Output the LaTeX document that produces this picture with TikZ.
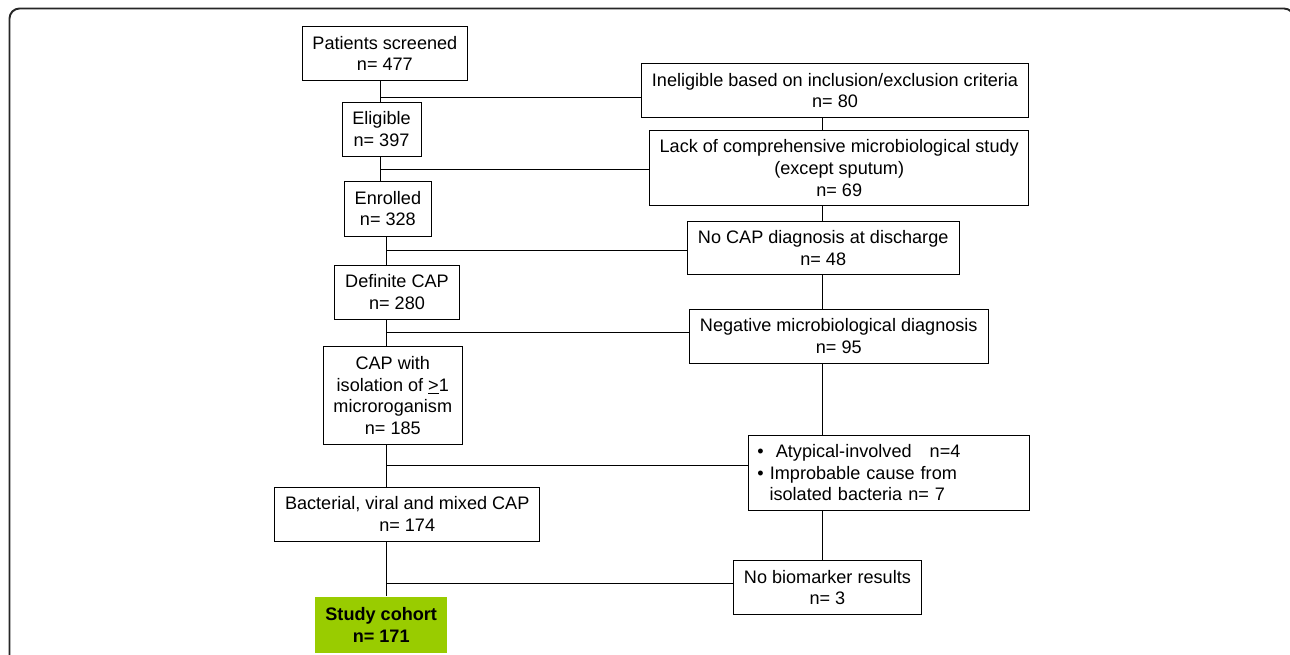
\documentclass[tikz,border=0pt]{standalone}
\usepackage{fontspec}
\setmainfont{Liberation Sans}
\usepackage{xcolor}
\usepackage{tikz}
\usetikzlibrary{positioning}

\definecolor{cohortgreen}{RGB}{153,204,0}

\begin{document}
\begin{tikzpicture}[
    x=0.02cm, y=-0.02cm,
    box/.style={draw, line width=0.5pt, align=center, inner sep=0pt,
        font=\fontsize{10.3pt}{12.4pt}\selectfont},
    final/.style={box, draw=none, fill=cohortgreen,
        font=\fontsize{10.3pt}{12.4pt}\selectfont\bfseries},
    link/.style={line width=0.5pt}
]
\clip (0,0) rectangle (1290,654);
\useasboundingbox (0,0) rectangle (1290,654);
% outer frame
\draw[line width=1.1pt, black!85, rounded corners=0.2cm] (9.5,8.5) rectangle (1294,720);

% main column
\node[box, minimum width=3.31cm, minimum height=1.09cm] (scr) at (384.9,53.4) {Patients screened\\n= 477};
\node[box, minimum width=1.58cm, minimum height=1.09cm] (elig) at (381.5,129.4) {Eligible\\n= 397};
\node[box, minimum width=1.75cm, minimum height=1.10cm] (enr) at (387.9,208.5) {Enrolled\\n= 328};
\node[box, minimum width=2.49cm, minimum height=1.09cm] (def) at (397,292.2) {Definite CAP\\n= 280};
\node[box, minimum width=2.78cm, minimum height=1.95cm] (capw) at (392.8,395.5) {CAP with\\isolation of \underline{>}1\\microroganism\\n= 185};
\node[box, minimum width=5.31cm, minimum height=1.07cm] (bact) at (407.2,514.2) {Bacterial, viral and mixed CAP\\n= 174};
\node[final, minimum width=2.65cm, minimum height=1.13cm] (study) at (381.2,624.9) {Study cohort\\n= 171};

% excluded column
\node[box, minimum width=7.73cm, minimum height=1.09cm] (inel) at (835,90.5) {Ineligible based on inclusion/exclusion criteria\\n= 80};
\node[box, minimum width=7.59cm, minimum height=1.51cm] (lack) at (839.2,167.9) {Lack of comprehensive microbiological study\\(except sputum)\\n= 69};
\node[box, minimum width=5.43cm, minimum height=1.07cm] (nocap) at (823.2,247.7) {No CAP diagnosis at discharge\\n= 48};
\node[box, minimum width=5.98cm, minimum height=1.09cm] (neg) at (838.8,336.2) {Negative microbiological diagnosis\\n= 95};
\node[box, align=left, inner xsep=0.18cm, text width=5.25cm, minimum height=1.51cm] (atyp) at (888.7,472.7) {•\ \ Atypical-involved\ \ \ n=4\\• Improbable cause from\\\ \ isolated bacteria n= 7};
\node[box, minimum width=3.75cm, minimum height=1.07cm] (nobio) at (827.4,587.5) {No biomarker results\\n= 3};

% junctions
\coordinate (j1) at (380,97);
\coordinate (j2) at (380,169);
\coordinate (j3) at (386.7,250);
\coordinate (j4) at (386.7,332);
\coordinate (j5) at (386.7,465);
\coordinate (j6) at (386.7,583);
\coordinate (r) at (822.5,0);

\draw[link] (scr.south -| j1) -- (elig.north -| j1);
\draw[link] (elig.south -| j2) -- (enr.north -| j2);
\draw[link] (enr.south -| j3) -- (def.north -| j3);
\draw[link] (def.south -| j4) -- (capw.north -| j4);
\draw[link] (capw.south -| j5) -- (bact.north -| j5);
\draw[link] (bact.south -| j6) -- (study.north -| j6);

\draw[link] (j1) -- (j1 -| inel.west);
\draw[link] (j2) -- (j2 -| lack.west);
\draw[link] (j3) -- (j3 -| nocap.west);
\draw[link] (j4) -- (j4 -| neg.west);
\draw[link] (j5) -- (j5 -| atyp.west);
\draw[link] (j6) -- (j6 -| nobio.west);

\draw[link] (inel.south -| r) -- (lack.north -| r);
\draw[link] (lack.south -| r) -- (nocap.north -| r);
\draw[link] (nocap.south -| r) -- (neg.north -| r);
\draw[link] (neg.south -| r) -- (atyp.north -| r);
\draw[link] (atyp.south -| r) -- (nobio.north -| r);
\end{tikzpicture}
\end{document}
